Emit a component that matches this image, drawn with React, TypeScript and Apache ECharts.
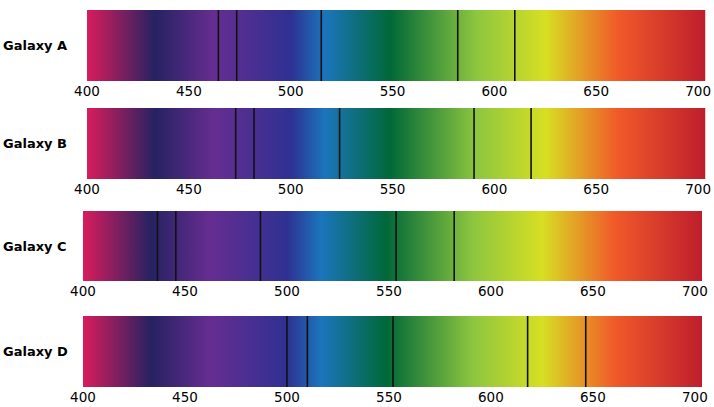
import React, { useEffect, useRef } from "react";
import * as echarts from "echarts";

const galaxies = ["Galaxy A", "Galaxy B", "Galaxy C", "Galaxy D"];
const wavelengthTicks = [400, 450, 500, 550, 600, 650, 700];
const spectrumRange = [400, 703.5];
const galaxyALines = [464.5, 473.5, 515, 582, 610];
const galaxyBLines = [473, 482, 524, 590, 618];
const galaxyCLines = [436.5, 445.5, 487, 553.5, 582];
const galaxyDLines = [500, 510, 552, 618, 646.5];
const absorptionLines = [galaxyALines, galaxyBLines, galaxyCLines, galaxyDLines];

const gridBoxes = [
  { left: 87, top: 10, width: 619, height: 71 },
  { left: 87, top: 108, width: 619, height: 71 },
  { left: 83, top: 211, width: 619, height: 70 },
  { left: 83, top: 316, width: 619, height: 71 },
];

const spectrumStops = [
  { offset: 0, color: "#d91c5c" },
  { offset: 0.11, color: "#262262" },
  { offset: 0.205, color: "#662d91" },
  { offset: 0.33, color: "#2e3192" },
  { offset: 0.385, color: "#1b75bc" },
  { offset: 0.49, color: "#006838" },
  { offset: 0.63, color: "#8dc63f" },
  { offset: 0.742, color: "#d7df23" },
  { offset: 0.858, color: "#f15a29" },
  { offset: 1, color: "#be1e2d" },
];

export default function App() {
  const ref = useRef<HTMLDivElement>(null);
  useEffect(() => {
    if (!ref.current) return;
    const chart = echarts.init(ref.current, undefined, { renderer: "svg" });
    const grid: any[] = [];
    const xAxis: any[] = [];
    const yAxis: any[] = [];
    const series: any[] = [];
    galaxies.forEach((name, i) => {
      const g = gridBoxes[i];
      grid.push({ ...g });
      xAxis.push({
        type: "value",
        gridIndex: i,
        min: spectrumRange[0],
        max: spectrumRange[1],
        axisLine: { show: false },
        axisTick: { show: false },
        splitLine: { show: false },
        axisLabel: {
          customValues: wavelengthTicks,
          margin: 3,
          color: "#000",
          fontSize: 13.5,
          fontFamily: "DejaVu Sans",
        },
      });
      yAxis.push({
        type: "category",
        gridIndex: i,
        data: [name],
        axisLine: { show: false },
        axisTick: { show: false },
        splitLine: { show: false },
        axisLabel: {
          align: "left",
          margin: g.left - 3,
          color: "#000",
          fontSize: 13,
          fontWeight: "bold",
          fontFamily: "DejaVu Sans",
        },
      });
      series.push({
        type: "custom",
        xAxisIndex: i,
        yAxisIndex: i,
        data: [[spectrumRange[0], spectrumRange[1]]],
        encode: { x: [0, 1] },
        renderItem: (params: any, api: any) => {
          const cs = params.coordSys;
          const x0 = api.coord([api.value(0), 0])[0];
          const x1 = api.coord([api.value(1), 0])[0];
          return {
            type: "rect",
            shape: { x: x0, y: cs.y, width: x1 - x0, height: cs.height },
            style: {
              fill: new echarts.graphic.LinearGradient(0, 0, 1, 0, spectrumStops),
            },
          };
        },
      });
      series.push({
        type: "custom",
        xAxisIndex: i,
        yAxisIndex: i,
        data: absorptionLines[i].map((v) => [v, 0]),
        encode: { x: 0, y: 1 },
        z: 3,
        renderItem: (params: any, api: any) => {
          const cs = params.coordSys;
          const x = api.coord([api.value(0), 0])[0];
          return {
            type: "line",
            shape: { x1: x, y1: cs.y, x2: x, y2: cs.y + cs.height },
            style: { stroke: "#111", lineWidth: 1.6 },
          };
        },
      });
    });
    chart.setOption({
      animation: false,
      backgroundColor: "#fff",
      grid,
      xAxis,
      yAxis,
      series,
    });
    return () => chart.dispose();
  }, []);
  return (
    <div
      ref={ref}
      style={{ position: "fixed", left: 0, top: 0, width: 714, height: 407 }}
    />
  );
}
